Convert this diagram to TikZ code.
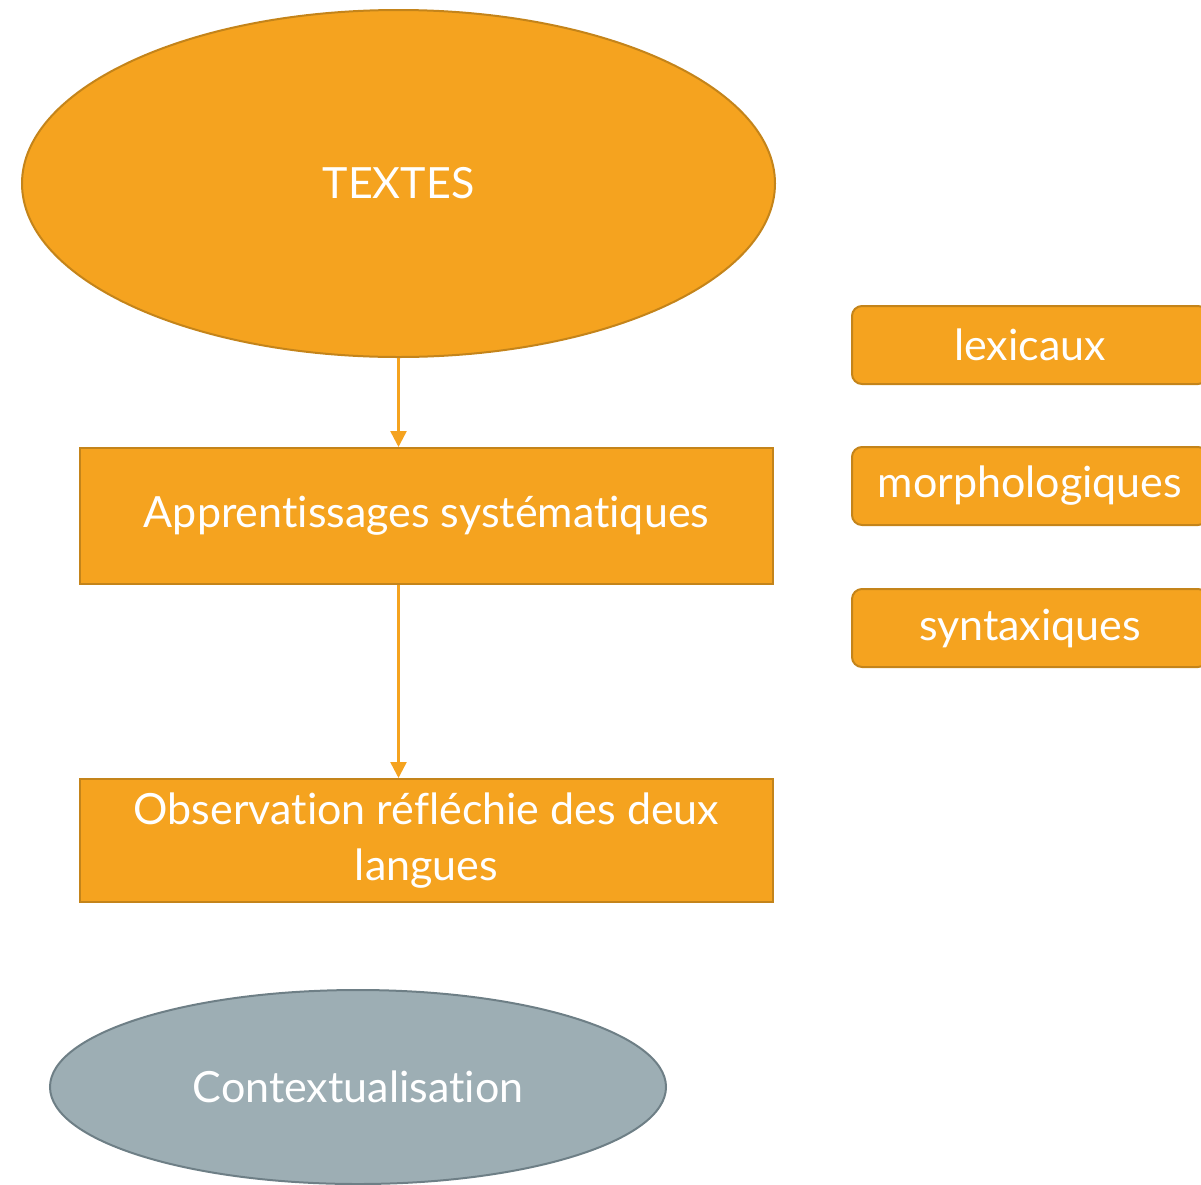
\documentclass[tikz,border=0pt]{standalone}
\usepackage{fontspec}
\setmainfont{Lato}[Ligatures=NoCommon]
\usepackage{tikz}
\usetikzlibrary{shapes}
\usetikzlibrary{arrows.meta}
\usetikzlibrary{positioning}
\definecolor{orangefill}{HTML}{F5A31F}
\definecolor{orangeline}{HTML}{C4841A}
\definecolor{greyfill}{HTML}{9DAEB4}
\definecolor{greyline}{HTML}{6E7F86}

\begin{document}
\begin{tikzpicture}[x=1pt,y=-1pt,
  bigtext/.style={text=white,font=\fontsize{43}{56}\selectfont},
  oval/.style={ellipse,draw=orangeline,fill=orangefill,line width=2pt,inner sep=0pt,bigtext},
  stepbox/.style={rectangle,draw=orangeline,fill=orangefill,line width=2pt,minimum width=693pt,inner sep=0pt,align=center,bigtext},
  tagbox/.style={rectangle,rounded corners=10pt,draw=orangeline,fill=orangefill,line width=2pt,minimum width=356pt,minimum height=78pt,inner sep=0pt,bigtext},
  flow/.style={draw=orangefill,line width=2.5pt,-{Triangle[length=16pt,width=16pt]}}]
  \useasboundingbox (0,0) rectangle (1201,1184);
  \node[oval,minimum width=753pt,minimum height=347pt] (textes) at (398.5,183.5) {TEXTES};
  \node[stepbox,minimum height=136pt] (appr) at (426.5,516) {Apprentissages systématiques};
  \node[stepbox,minimum height=123pt] (obs) at (426.5,840.5) {Observation réfléchie des deux\\langues};
  \node[oval,draw=greyline,fill=greyfill,minimum width=616pt,minimum height=194pt] (context) at (358,1087) {Contextualisation};
  \node[tagbox] (lex) at (1030,345) {lexicaux};
  \node[tagbox] (morph) at (1030,486) {morphologiques};
  \node[tagbox] (synt) at (1030,628) {syntaxiques};
  \draw[flow] (textes.south) -- (textes.south |- appr.north);
  \draw[flow] (textes.south |- appr.south) -- (textes.south |- obs.north);
\end{tikzpicture}
\end{document}
